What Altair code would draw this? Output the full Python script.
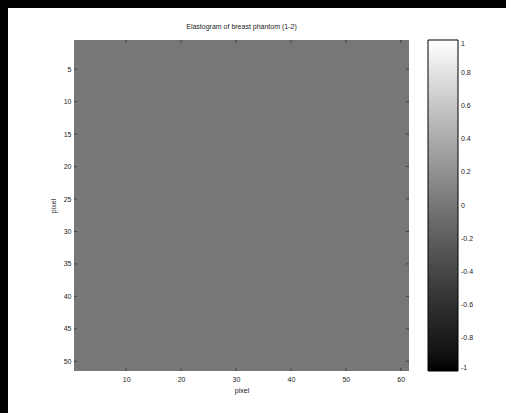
import altair as alt
import pandas as pd

# Elastogram grid: 61 columns x 51 rows, strain field is flat at 0 everywhere
cols = list(range(1, 62))
rows = list(range(1, 52))
strain_level = 0.0

x_ticks = [10, 20, 30, 40, 50, 60]
y_ticks = [5, 10, 15, 20, 25, 30, 35, 40, 45, 50]
cbar_ticks = [1, 0.8, 0.6, 0.4, 0.2, 0, -0.2, -0.4, -0.6, -0.8, -1]
title_text = ["Elastogram of breast phantom (1-2)"]

# each cell is stretched a little past its far edge so neighbouring
# rectangles overlap and no anti-aliasing seams show between them
grid = pd.DataFrame(
    [{"col": c, "row": r, "v": strain_level} for r in rows for c in cols]
)
grid["c0"] = grid["col"] - 0.5
grid["c1"] = grid["col"] + 0.75
grid["r0"] = grid["row"] - 0.5
grid["r1"] = grid["row"] + 0.75

W, H = 335, 331
FONT = "Liberation Sans"
TXT = "#222222"

xs = alt.Scale(domain=[0.5, 61.5], nice=False, zero=False)
ys = alt.Scale(domain=[0.5, 51.5], nice=False, zero=False, reverse=True)
cs = alt.Scale(domain=[-1, 1], range=["#000000", "#ffffff"], type="linear")

ax_x = alt.Axis(values=x_ticks, tickSize=0, labelPadding=4, domain=False,
                grid=False, zindex=1, labelOverlap=False, titlePadding=4)
ax_y = alt.Axis(values=y_ticks, tickSize=0, labelPadding=3, domain=False,
                grid=False, zindex=1, labelOverlap=False, titlePadding=7)

# white figure panel over the black window background
panel = alt.Chart(pd.DataFrame({"p": [0]})).mark_rect(color="white").encode(
    x=alt.value(-66), x2=alt.value(W + 120),
    y=alt.value(-32), y2=alt.value(H + 60),
)

heat = alt.Chart(grid).mark_rect(clip=True).encode(
    x=alt.X("c0:Q", scale=xs, title="pixel", axis=ax_x),
    x2="c1:Q",
    y=alt.Y("r0:Q", scale=ys, title="pixel", axis=ax_y),
    y2="r1:Q",
    color=alt.Color(
        "v:Q", scale=cs,
        legend=alt.Legend(
            type="gradient", direction="vertical",
            title=None, orient="right", offset=19, padding=0,
            gradientLength=H, gradientThickness=30,
            gradientStrokeColor="#000000", gradientStrokeWidth=1,
            values=cbar_ticks, labelExpr="'' + datum.value",
            labelOverlap=False, labelFontSize=7, labelFont=FONT,
            labelColor=TXT, labelOffset=3, labelBaseline="middle",
        ),
    ),
)

title = alt.Chart(pd.DataFrame({"t": title_text})).mark_text(
    font=FONT, fontSize=7, color=TXT, baseline="middle", align="center"
).encode(text="t:N", x=alt.value(W / 2), y=alt.value(-13))

tick_color = "#333333"
xt = pd.DataFrame({"t": x_ticks})
yt = pd.DataFrame({"t": y_ticks})
xbot = alt.Chart(xt).mark_rule(color=tick_color, strokeWidth=0.8).encode(
    x=alt.X("t:Q", scale=xs, title="pixel", axis=ax_x),
    y=alt.value(H - 3), y2=alt.value(H))
xtop = alt.Chart(xt).mark_rule(color=tick_color, strokeWidth=0.8).encode(
    x=alt.X("t:Q", scale=xs, title="pixel", axis=ax_x),
    y=alt.value(0), y2=alt.value(3))
yleft = alt.Chart(yt).mark_rule(color=tick_color, strokeWidth=0.8).encode(
    y=alt.Y("t:Q", scale=ys, title="pixel", axis=ax_y),
    x=alt.value(0), x2=alt.value(3))
yright = alt.Chart(yt).mark_rule(color=tick_color, strokeWidth=0.8).encode(
    y=alt.Y("t:Q", scale=ys, title="pixel", axis=ax_y),
    x=alt.value(W - 3), x2=alt.value(W))

chart = alt.layer(panel, heat, xbot, xtop, yleft, yright, title).properties(
    width=W, height=H,
    autosize=alt.AutoSizeParams(type="none"),
    padding={"left": 74, "top": 40, "right": 97, "bottom": 42},
).configure(
    background="#000000"
).configure_view(stroke=None).configure_axis(
    labelFont=FONT, labelFontSize=7, labelColor=TXT,
    titleFont=FONT, titleFontSize=7, titleColor=TXT,
    titleFontWeight="normal",
)

chart.save("out.html", embed_options={"renderer": "svg", "actions": False})
